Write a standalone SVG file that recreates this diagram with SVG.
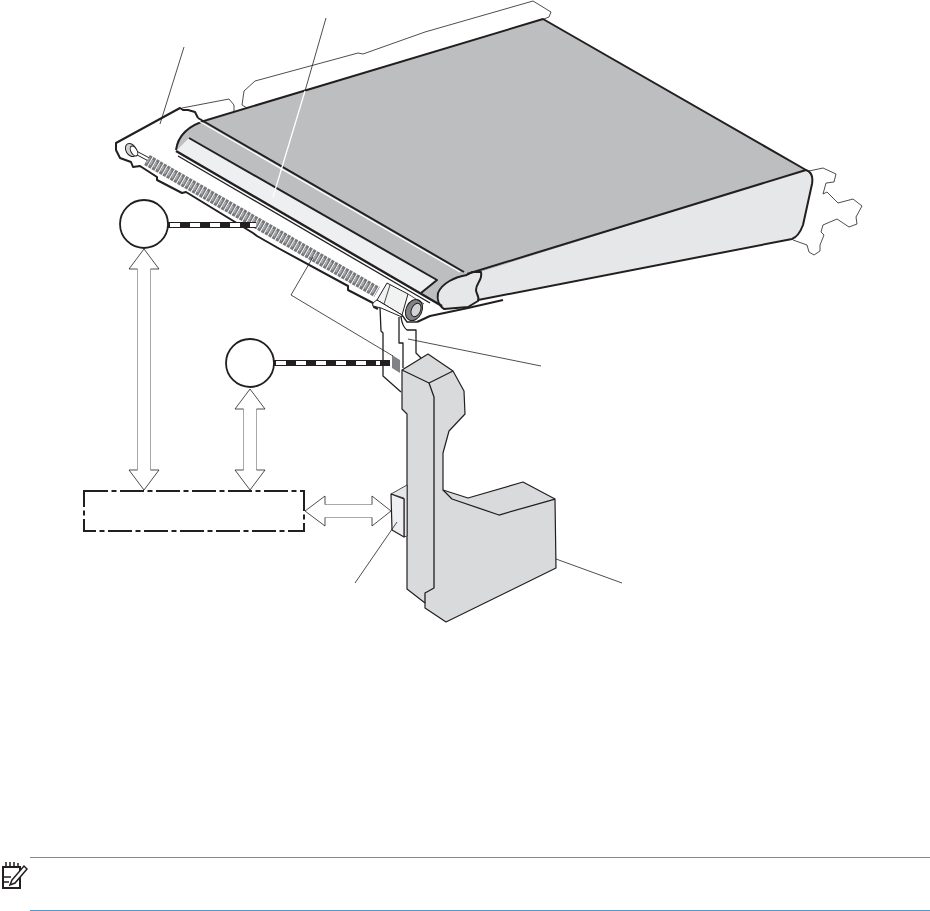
<svg xmlns="http://www.w3.org/2000/svg" width="930" height="911" viewBox="0 0 930 911">
<defs>
<style>
.thin{fill:none;stroke:#231f20;stroke-width:.8;stroke-linejoin:round}
.thick{fill:none;stroke:#231f20;stroke-width:2;stroke-linejoin:round}
.med{fill:none;stroke:#231f20;stroke-width:1.3;stroke-linejoin:round}
.leader{fill:none;stroke:#231f20;stroke-width:.8}
.halo{fill:none;stroke:#fff;stroke-width:1.3}
.circ{fill:#fff;stroke:#231f20;stroke-width:1.8}
.head{fill:#fff;stroke:#231f20;stroke-width:.8;stroke-linejoin:miter}
.shaft{fill:#fff;stroke:#a7a9ac;stroke-width:1}
.hatchb{fill:none;stroke:#231f20;stroke-width:6}
.hatchw{fill:none;stroke:#fff;stroke-width:4;stroke-dasharray:10 10}
</style>
</defs>
<rect width="930" height="911" fill="#fff"/>
<g id="belt-unit">
<path class="thin" d="M182,108L229,99L234,105L234,111"/>
<path class="thin" d="M247,108L242,105L244,91L255,81L358,53L363,54L425,32L533,1L551,12L549,17L544,19"/>
<path class="thin" d="M809,171L823,168L836,174L834,182L826,183L823,194L827,192L838,203L853,199L862,206L856,217L857,224L849,227L837,219L823,225L821,232L824,235L820,245L820,251L814,255L809,252L807,245L793,240"/>
<path class="thick" d="M198,118L195,112L188,110L183,110L180,108L116,143L116,150L120,158L131,162L133,167L140,166L157,177L157,180L182,193L186,192L253,233L257,236L278,248L348,286L348,290L373,303L374,307L378,309"/>
<path d="M176,150C178,135 190,125 207,120L543,19L806,170L481,272L467,275C450,278 438,285 438,296L442,307Z" fill="#bcbec0"/>
<path d="M481,272L806,170C812,172 813,178 812,184L803,225C800,233 797,237 792,239L478,300L476,290Z" fill="#e6e7e8"/>
<path d="M467,275L481,272C483,280 476,283 476,290C476,294 480,297 478,301L468,307L444,309C438,305 437,298 438,293C442,283 455,277 467,275Z" fill="#e6e7e8"/>
<path class="thick" d="M207,120L543,19L806,170L467,274"/>
<path class="thick" d="M806,170C812,172 813,178 812,184L803,225C800,233 797,237 792,239L478,300"/>
<path class="thick" d="M467,275C455,277 442,283 438,293C437,298 438,305 444,309L468,307L478,301C480,297 476,294 476,290C476,283 483,280 481,272L472,272L467,275"/>
<path class="thick" d="M176,150C178,135 190,125 207,120"/>
<path class="thick" d="M198,118L464,272"/>
<path d="M197,120L460,272" fill="none" stroke="#fff" stroke-width="1.2"/>
<path d="M176,151L189,138L437,280L421,293Z" fill="#eeeff0"/>
<path class="thick" d="M189,138L437,280L421,293"/>
<path d="M176,151L442,306" fill="none" stroke="#231f20" stroke-width="2.4"/>
<path class="med" d="M178,156L430,303"/>
<path class="thick" d="M417,322L430,316L468,308L503,300"/>
<path class="med" d="M402,315L407,322L417,322"/>
</g>
<g id="spring">
<path d="M147,160L377,292" fill="none" stroke="#77787b" stroke-width="11.500" stroke-dasharray="3.2 1"/>
<path d="M147,160L377,292" fill="none" stroke="#a7a9ac" stroke-width="6" stroke-dasharray="1.800 2.400"/>
<path d="M133,151L148,159" fill="none" stroke="#231f20" stroke-width="4"/>
<path d="M133,151L148,159" fill="none" stroke="#fff" stroke-width="2"/>
<ellipse cx="131" cy="150" rx="5" ry="7" transform="rotate(-30 131 150)" fill="#d1d3d4" stroke="#231f20" stroke-width="1"/>
<ellipse cx="134" cy="151" rx="3" ry="5.500" transform="rotate(-30 134 151)" fill="#fff" stroke="#231f20" stroke-width="1"/>
<path d="M392,355L400,360L400,373L392,368Z" fill="#808285"/>
</g>
<g id="bracket">
<path class="med" d="M380,307L381,331L383,333L383,376L401,392"/>
<path class="med" d="M399,317L399,343L403,343L403,368"/>
<path class="med" d="M401,317C402,324 404,328 407,330L416,330L416,353L421,358"/>
<path d="M377,300L387,283L408,294L402,315Z" fill="#f1f2f2" stroke="#231f20" stroke-width="1"/>
<path class="thin" d="M390,285L384,304"/>
<path d="M377,300C374,302 372,303 373,306L381,308L402,317L402,315Z" fill="#fff" stroke="#231f20" stroke-width="1"/>
<ellipse cx="414" cy="310" rx="8" ry="11" transform="rotate(25 414 310)" fill="#808285" stroke="#231f20" stroke-width="1"/>
<ellipse cx="416" cy="310" rx="4.500" ry="7" transform="rotate(25 416 310)" fill="#d1d3d4" stroke="#231f20" stroke-width="1"/>
<path class="thin" d="M408,294L424,304"/>
</g>
<g id="cartridge">
<path d="M402,370L428,354L453,371L464,391L465,414L449,431L443,453L443,490L468,498L523,482L555,499L556,568L446,622L425,608L425,603L407,589L407,414L402,409Z" fill="#d9dadc" stroke="#231f20" stroke-width="1.2" stroke-linejoin="round"/>
<path class="med" d="M402,370L429,383L453,371"/>
<path class="med" d="M429,383L434,397L434,588L425,593L425,603"/>
<path class="med" d="M443,490L452,499L499,515L555,499"/>
</g>
<g id="sensor">
<path d="M391,494L407,485L407,536L404,537L404,498Z" fill="#e6e7e8" stroke="#231f20" stroke-width=".8"/>
<path d="M391,494L404,499L404,537L392,530Z" fill="#eeeff0" stroke="#231f20" stroke-width="1.2" stroke-linejoin="round"/>
</g>
<g id="circle-1"><circle class="circ" cx="144" cy="224" r="24"/></g>
<g id="circle-2"><circle class="circ" cx="250" cy="363" r="24"/></g>
<g id="controller">
<rect x="84" y="491" width="220" height="40" fill="#fff" stroke="#231f20" stroke-width="2" stroke-dasharray="24 3.500 5 3.500"/>
</g>
<g id="connectors">
<path class="hatchb" d="M168,225H256"/>
<path class="hatchw" d="M170,225H256"/>
<path class="hatchb" d="M274,363H390"/>
<path class="hatchw" d="M276,363H380"/>
<path class="leader" d="M184,47L160,124"/>
<path class="leader" d="M326,18L305,91"/>
<path class="halo" d="M305,91L273,197"/>
<path class="leader" d="M313,257L291,295L393,356"/>
<path class="leader" d="M408,339L541,366"/>
<path class="leader" d="M397,522L355,583"/>
<path class="leader" d="M556,559L622,583"/>
<path class="shaft" d="M137.500,269V470M150.500,269V470"/>
<path class="head" d="M137.500,269H129L144,249L159,269H150.500"/>
<path class="head" d="M137.500,470H129L144,490L159,470H150.500"/>
<path class="shaft" d="M243.500,409V470M256.500,409V470"/>
<path class="head" d="M243.500,409H235L250,389L265,409H256.500"/>
<path class="head" d="M243.500,470H235L250,490L265,470H256.500"/>
<path class="shaft" d="M325,504.500H372M325,517.500H372"/>
<path class="head" d="M325,504.500V496L305,511L325,526V517.500"/>
<path class="head" d="M372,504.500V496L391,511L372,526V517.500"/>
</g>
<g id="note">
<path d="M30,857.500H930M30,910.500H930" fill="none" stroke="#4f9ad0" stroke-width="1"/>
<path d="M3,867H20V888H3Z" fill="#fff" stroke="#231f20" stroke-width="2"/>
<path d="M6,862V868M10,862V868M14,862V868M18,863V868" stroke="#231f20" stroke-width="1.500" fill="none"/>
<path d="M3,877H11M3,882H9" stroke="#231f20" stroke-width="1.500" fill="none"/>
<path d="M12,880L24,866L27,869L15,883L10,885Z" fill="#fff" stroke="#231f20" stroke-width="1.500"/>
</g>
</svg>
